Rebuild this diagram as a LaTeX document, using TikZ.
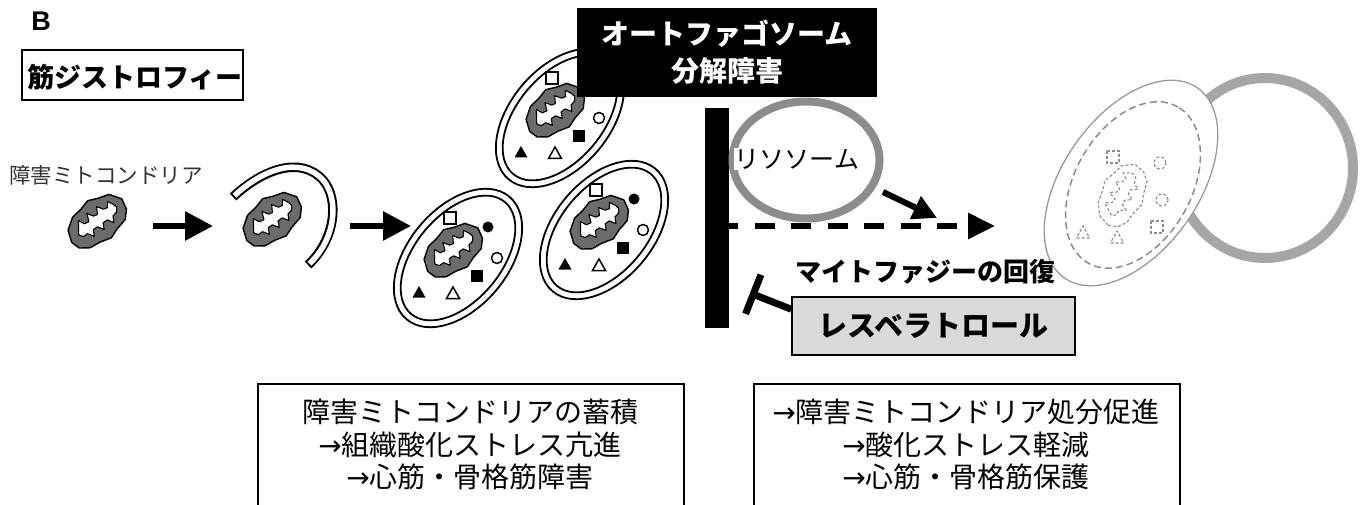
\documentclass[tikz,border=0pt]{standalone}
\usepackage{fontspec}
\usetikzlibrary{arrows.meta,shapes.geometric,calc}
\newfontfamily\jp{Noto Sans CJK JP}
\newfontfamily\arw{DejaVu Sans}
\newfontfamily\lat{Liberation Sans}
\newcommand\setfs[2]{\fontsize{#1}{#2}\selectfont}
\newcommand\toarr{{\arw →}}

\tikzset{
  mitoshell/.style={fill=black!58, draw=black, line width=1.4pt, line join=round},
  cristae/.style={fill=white, draw=black, line width=1.1pt, line join=round},
  membrane/.style={draw=black, line width=1.8pt},
  ghost/.style={draw=black!45, line width=1.1pt, dash pattern=on 3pt off 2pt},
  bigarrow/.style={line width=6pt, -{Triangle[length=28pt,width=28pt]}},
  txtbox/.style={draw=black, line width=2pt, inner sep=0pt},
  % damaged mitochondrion: grey body with white cristae
  mito/.pic={
    \draw[mitoshell] (-33,3) -- (-29,-9) -- (-18,-17) -- (-6,-19) -- (4,-22) -- (14,-18)
      -- (25,-15) -- (33,-4) -- (31,7) -- (24,15) -- (12,18) -- (2,22) -- (-10,19)
      -- (-21,18) -- (-30,12) -- cycle;
    \draw[cristae] (-23,1) -- (-19,-5) -- (-15,-11) -- (-12,-5) -- (-7,-4) -- (-4,-12)
      -- (0,-6) -- (4,-5) -- (8,-12) -- (12,-6) -- (16,-5) -- (20,-10) -- (23,-4)
      -- (24,0) -- (21,4) -- (16,5) -- (13,11) -- (9,5) -- (4,5) -- (1,11) -- (-3,5)
      -- (-8,5) -- (-11,11) -- (-15,5) -- (-20,5) -- cycle;
  },
  % the same mitochondrion, digested
  ghostmito/.pic={
    \draw[ghost] (-33,3) -- (-29,-9) -- (-18,-17) -- (-6,-19) -- (4,-22) -- (14,-18)
      -- (25,-15) -- (33,-4) -- (31,7) -- (24,15) -- (12,18) -- (2,22) -- (-10,19)
      -- (-21,18) -- (-30,12) -- cycle;
    \draw[ghost] (-23,1) -- (-19,-5) -- (-15,-11) -- (-12,-5) -- (-7,-4) -- (-4,-12)
      -- (0,-6) -- (4,-5) -- (8,-12) -- (12,-6) -- (16,-5) -- (20,-10) -- (23,-4)
      -- (24,0) -- (21,4) -- (16,5) -- (13,11) -- (9,5) -- (4,5) -- (1,11) -- (-3,5)
      -- (-8,5) -- (-11,11) -- (-15,5) -- (-20,5) -- cycle;
  },
  % autophagosome: double membrane around a mitochondrion and cargo
  autoph/.pic={
    \draw[membrane, fill=white, rotate=50] (0,0) ellipse [x radius=80pt, y radius=50pt];
    \draw[membrane, rotate=50] (0,0) ellipse [x radius=73pt, y radius=43pt];
    \pic[rotate=35] at (-5,-8) {mito};
    \draw[line width=1.5pt, fill=white] (-14,-46) rectangle (-2,-34);
    \fill (30,-31) circle [radius=5.5pt];
    \draw[line width=1.5pt] (39,0) circle [radius=5.5pt];
    \fill (13,12) rectangle (25,24);
    \fill (-45.5,39.5) -- (-32.5,39.5) -- (-39,28) -- cycle;
    \draw[line width=1.5pt, line join=miter] (-11.5,40.5) -- (1.5,40.5) -- (-5,29) -- cycle;
  },
}

\begin{document}
\begin{tikzpicture}[x=1pt,y=-1pt]
\useasboundingbox (0,0) rectangle (1360,505);
\clip (0,0) rectangle (1360,505);

% panel letter and disease label
\node[font=\lat\bfseries\setfs{27}{27}] (panel) at (41,21) {B};
\node[txtbox, minimum width=221pt, minimum height=50pt] (disease) at (132.5,75) {};
\node[font=\jp\bfseries\setfs{27}{27}, anchor=west, inner sep=0pt] (diseasetext) at (27,77) {筋ジストロフィー};

% damaged mitochondrion and its engulfment
\node[font=\jp\setfs{21.5}{21.5}, text=black!80] (dmlabel) at (106,175) {障害ミトコンドリア};
\pic[rotate=35] at (97,221) {mito};
\coordinate (a1s) at (153,226);
\coordinate (a1e) at (213,226);
\draw[bigarrow] (a1s) -- (a1e);

\draw[line width=9.5pt] (233,197) .. controls (262,170) and (300,155) .. (323,180)
  .. controls (340,200) and (335,240) .. (308,265);
\draw[line width=5.5pt, white, shorten <=2pt, shorten >=2pt] (233,197) .. controls (262,170) and (300,155) .. (323,180)
  .. controls (340,200) and (335,240) .. (308,265);
\pic[rotate=35] at (272,219) {mito};
\coordinate (a2s) at (350,226);
\coordinate (a2e) at (411,226);
\draw[bigarrow] (a2s) -- (a2e);

% accumulated autophagosomes
\pic at (458,258) {autoph};
\pic at (560,118) {autoph};
\pic at (604,230) {autoph};

% degradation block
\node[fill=black, text=white, font=\jp\bfseries\setfs{28}{37}, align=center,
      minimum width=300pt, minimum height=89pt, inner sep=0pt] (blockbox) at (727,52.5)
      {オートファゴソーム\\分解障害};
\node[fill=black, minimum width=24pt, minimum height=220pt, inner sep=0pt] (bar) at (717,218) {};

% lysosome
\node[ellipse, draw=black!45, line width=8pt, minimum width=147pt, minimum height=117pt] (lyso) at (806,160) {};
\node[fill=white, inner sep=1pt, font=\jp\setfs{25}{25}] (lysotext) at (797,159) {リソソーム};

% fusion towards the autolysosome
\coordinate (dstart) at (729,226);
\coordinate (dend) at (995,226);
\draw[line width=6pt, dash pattern=on 20pt off 16.5pt, dash phase=11pt,
      -{Triangle[length=27pt,width=25pt]}] (dstart) -- (dend);
\coordinate (la1) at (883,192);
\coordinate (la2) at (937,218);
\draw[line width=6pt, -{Triangle[length=24pt,width=24pt]}] (la1) -- (la2);

% autolysosome with digested cargo
\draw[draw=black!35, line width=10pt] (1265,168) ellipse [x radius=88pt, y radius=90pt];
\draw[draw=black!40, line width=1.3pt, fill=white, rotate around={55:(1131,183)}]
  (1131,183) ellipse [x radius=116pt, y radius=68pt];
\draw[draw=black!45, line width=1.5pt, dash pattern=on 7pt off 4pt, rotate around={60:(1133,185)}]
  (1133,185) ellipse [x radius=90pt, y radius=58pt];
\pic[rotate=60] at (1122,195) {ghostmito};
\draw[ghost] (1107,151) rectangle (1119,163);
\draw[ghost] (1151,221) rectangle (1163,233);
\draw[ghost] (1160,163) circle [radius=6pt];
\draw[ghost] (1162,200) circle [radius=6pt];
\draw[ghost] (1110.5,243) -- (1123.5,243) -- (1117,231) -- cycle;
\draw[ghost] (1076.5,238) -- (1089.5,238) -- (1083,226) -- cycle;

% recovery of mitophagy by resveratrol
\node[font=\jp\bfseries\setfs{26}{26}] (recov) at (925,272) {マイトファジーの回復};
\node[draw=black, line width=1.5pt, fill=black!15, minimum width=283pt, minimum height=58pt,
      font=\jp\bfseries\setfs{29}{29}] (resv) at (933.5,326) {レスベラトロール};
\coordinate (inhib) at (750,293);
\draw[line width=7pt, -{Bar[width=42pt]}] ([yshift=-13pt]resv.north west) -- (inhib);

% outcome boxes
\node[txtbox, minimum width=426pt, minimum height=140pt, anchor=north west] (leftbox) at (257,383) {};
\node[font=\jp\setfs{28}{32.5}, align=center] (lefttext) at (470,444.5)
  {障害ミトコンドリアの蓄積\\\toarr 組織酸化ストレス亢進\\\toarr 心筋・骨格筋障害};
\node[txtbox, minimum width=426pt, minimum height=140pt, anchor=north west] (rightbox) at (753,383) {};
\node[font=\jp\setfs{28}{32.5}, align=center] (righttext) at (966,444.5)
  {\toarr 障害ミトコンドリア処分促進\\\toarr 酸化ストレス軽減\\\toarr 心筋・骨格筋保護};
\end{tikzpicture}
\end{document}
